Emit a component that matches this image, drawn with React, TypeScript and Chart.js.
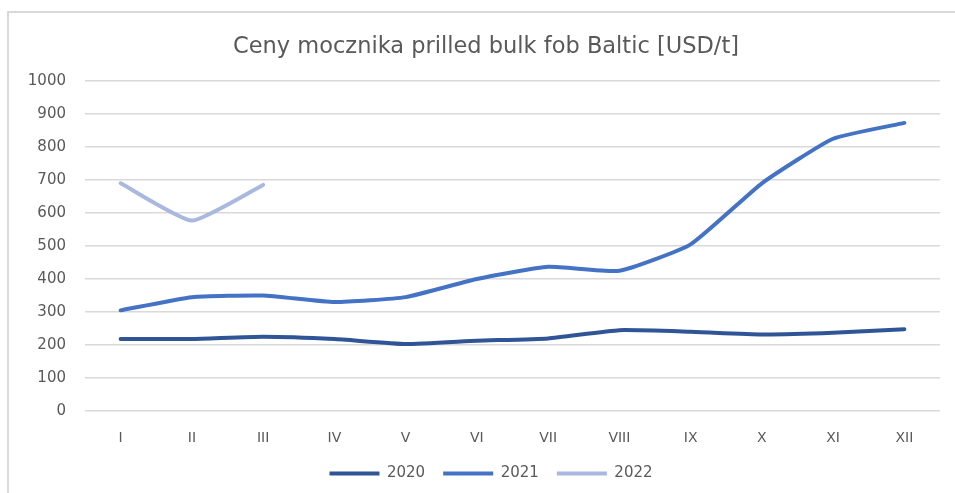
import React, { useEffect, useRef } from "react";
import { Chart, registerables } from "chart.js";

Chart.register(...registerables);

const months = ["I", "II", "III", "IV", "V", "VI", "VII", "VIII", "IX", "X", "XI", "XII"];
const values2020 = [218, 218, 225, 218, 203, 213, 220, 245, 240, 232, 237, 248];
const values2021 = [305, 345, 350, 330, 345, 400, 437, 425, 505, 690, 825, 873];
const values2022 = [690, 577, 685];
const titleText = "Ceny mocznika prilled bulk fob Baltic [USD/t]";

const FONT = "'DejaVu Sans', 'Noto Sans', sans-serif";
const TEXT = "#595959";

const shiftLegend = {
  id: "shiftLegend",
  afterLayout(chart: any) {
    const lg = chart.legend;
    if (lg) {
      lg.left += 21;
      lg.right += 21;
    }
  },
};

export default function App() {
  const ref = useRef<HTMLCanvasElement | null>(null);
  useEffect(() => {
    if (!ref.current) return;
    const mk = (label: string, data: number[], color: string) => ({
      label,
      data,
      borderColor: color,
      backgroundColor: color,
      borderWidth: 4,
      borderCapStyle: "round" as const,
      borderJoinStyle: "round" as const,
      pointRadius: 0,
      pointHoverRadius: 0,
      pointStyle: "line" as const,
      tension: 0.15,
      fill: false,
    });
    const chart = new Chart(ref.current, {
      type: "line",
      data: {
        labels: months,
        datasets: [
          mk("2020", values2020, "#2F5597"),
          mk("2021", values2021, "#4472C4"),
          mk("2022", values2022, "#A9B8DE"),
        ],
      },
      plugins: [shiftLegend],
      options: {
        animation: false,
        responsive: false,
        maintainAspectRatio: false,
        layout: { padding: { top: 81, right: 15, left: 0, bottom: 2 } },
        plugins: {
          title: { display: false },
          legend: {
            position: "bottom",
            labels: {
              usePointStyle: true,
              pointStyleWidth: 50,
              boxHeight: 5,
              color: TEXT,
              font: { family: FONT, size: 15 },
              padding: 18,
            },
          },
          tooltip: { enabled: false },
        },
        scales: {
          x: {
            offset: true,
            afterFit: (s: any) => { s.height = 37; },
            grid: { display: false, drawTicks: false },
            border: { display: false },
            ticks: { color: TEXT, font: { family: FONT, size: 14 }, padding: 19, maxRotation: 0 },
          },
          y: {
            min: 0,
            max: 1000,
            afterFit: (s: any) => { s.width = 85; },
            grid: { color: "#d9d9d9", lineWidth: 1.5, drawTicks: false },
            border: { display: false },
            ticks: {
              stepSize: 100,
              color: TEXT,
              font: { family: FONT, size: 15 },
              padding: 19,
              callback: (v: any) => String(v),
            },
          },
        },
      },
    });
    return () => chart.destroy();
  }, []);
  return (
    <div style={{ position: "fixed", left: 0, top: 0, width: 955, height: 493, background: "#fff" }}>
      <div
        style={{
          position: "absolute",
          left: 7,
          top: 11,
          right: 0,
          bottom: 0,
          borderTop: "2px solid #d9d9d9",
          borderLeft: "2px solid #d9d9d9",
        }}
      />
      <canvas ref={ref} width={955} height={493} style={{ position: "absolute", left: 0, top: 0 }} />
      <div
        style={{
          position: "absolute",
          left: 186,
          width: 600,
          top: 31,
          textAlign: "center",
          fontFamily: FONT,
          fontSize: 22.5,
          lineHeight: "28px",
          color: TEXT,
          whiteSpace: "nowrap",
        }}
      >
        {titleText}
      </div>
    </div>
  );
}
